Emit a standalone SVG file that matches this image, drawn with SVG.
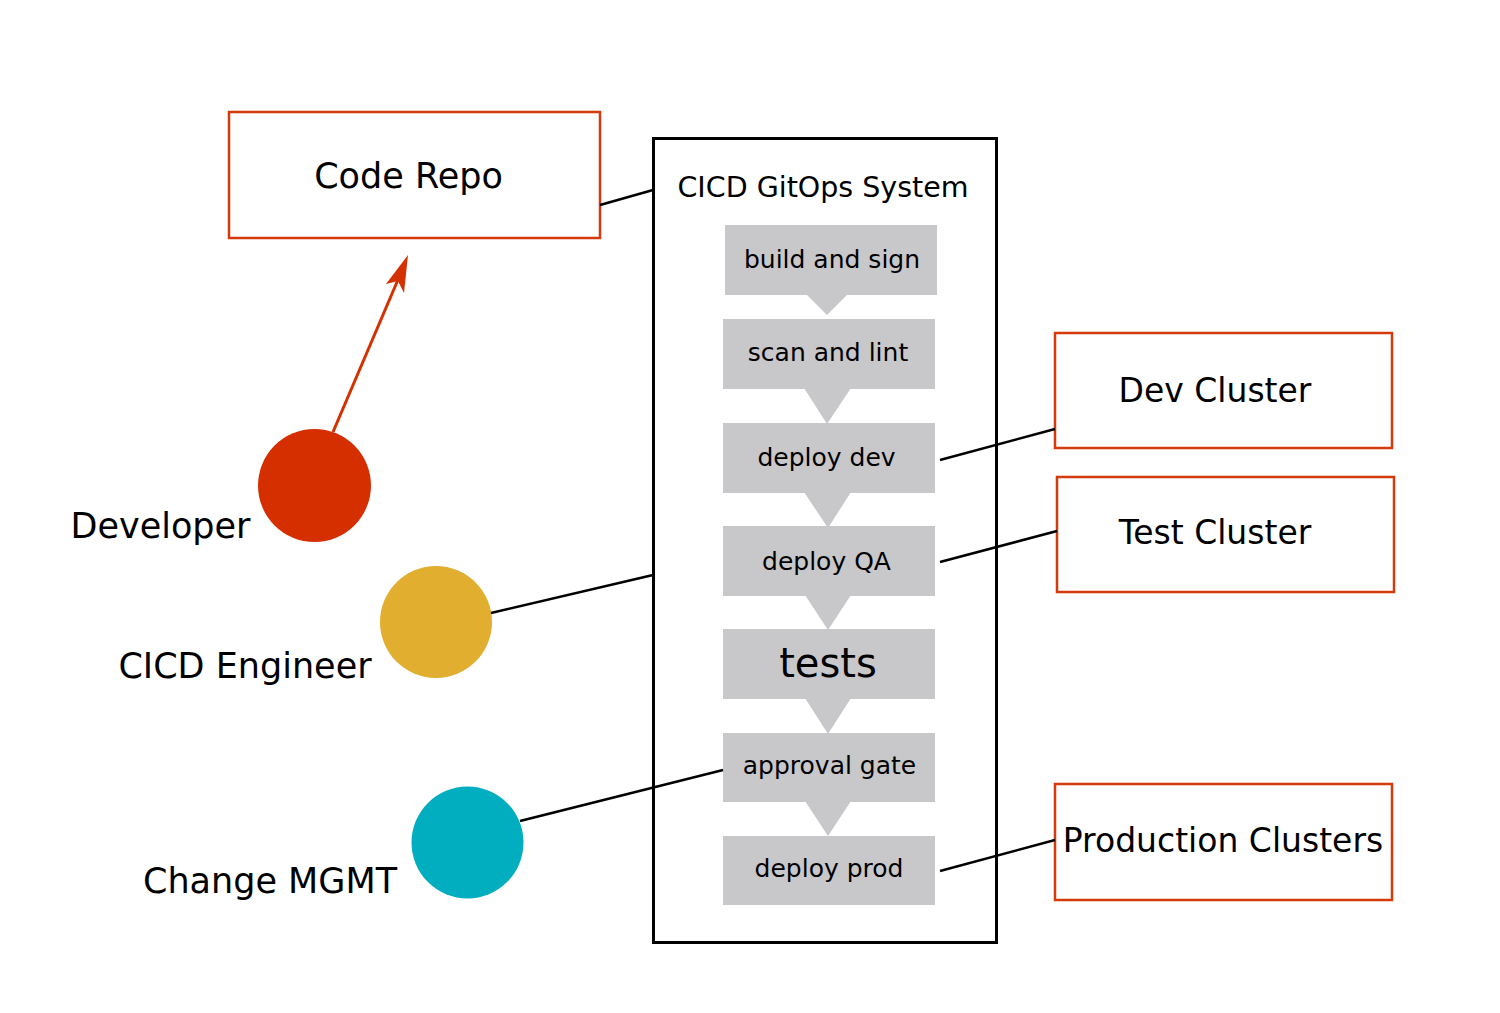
<svg xmlns="http://www.w3.org/2000/svg" width="1500" height="1013" viewBox="0 0 1500 1013">
<defs>
<style>
text{font-family:"DejaVu Sans","Verdana",sans-serif;fill:#000;}
.ob{fill:#fff;stroke:#d43a0c;stroke-width:2.5;}
.step{fill:#c8c7ca;}
.ln{stroke:#000;stroke-width:2.5;fill:none;}
.st{font-size:25px;text-anchor:middle;}
.big{font-size:33px;text-anchor:middle;}
.act{font-size:35px;text-anchor:middle;}
</style>
</defs>
<rect width="1500" height="1013" fill="#fff"/>

<g id="code-repo">
<rect class="ob" x="229" y="112" width="371" height="126"/>
<text class="act" x="408.5" y="188">Code Repo</text>
</g>

<g id="cicd-system">
<rect x="653.5" y="138.5" width="343" height="804" fill="#fff" stroke="#000" stroke-width="3"/>
<text x="823" y="197" font-size="28.5" text-anchor="middle">CICD GitOps System</text>
</g>

<g id="arrows-steps">
<polygon class="step" points="806,294 848,294 827,315"/>
<polygon class="step" points="804,388 851,388 827,424"/>
<polygon class="step" points="804,492 851,492 828,528"/>
<polygon class="step" points="805,595 851,595 828,630"/>
<polygon class="step" points="805,698 851,698 828,734"/>
<polygon class="step" points="805,801 851,801 828,836"/>
</g>

<g id="step-build">
<rect class="step" x="725" y="225" width="212" height="70"/>
<text class="st" x="832" y="268">build and sign</text>
</g>
<g id="step-scan">
<rect class="step" x="723" y="319" width="212" height="70"/>
<text class="st" x="828" y="361">scan and lint</text>
</g>
<g id="step-deploy-dev">
<rect class="step" x="723" y="423" width="212" height="70"/>
<text class="st" x="826.5" y="466">deploy dev</text>
</g>
<g id="step-deploy-qa">
<rect class="step" x="723" y="526" width="212" height="70"/>
<text class="st" x="826.5" y="570">deploy QA</text>
</g>
<g id="step-tests">
<rect class="step" x="723" y="629" width="212" height="70"/>
<text x="828" y="677" font-size="40" text-anchor="middle">tests</text>
</g>
<g id="step-approval">
<rect class="step" x="723" y="733" width="212" height="69"/>
<text class="st" x="829.5" y="774">approval gate</text>
</g>
<g id="step-deploy-prod">
<rect class="step" x="723" y="836" width="212" height="69"/>
<text class="st" x="829" y="877">deploy prod</text>
</g>

<g id="dev-cluster">
<rect class="ob" x="1055" y="333" width="337" height="115"/>
<text class="big" x="1215" y="402">Dev Cluster</text>
</g>
<g id="test-cluster">
<rect class="ob" x="1057" y="477" width="337" height="115"/>
<text class="big" x="1215" y="544">Test Cluster</text>
</g>
<g id="prod-clusters">
<rect class="ob" x="1055" y="784" width="337" height="116"/>
<text class="big" x="1223" y="852">Production Clusters</text>
</g>

<g id="developer">
<circle cx="314.5" cy="485.5" r="56.5" fill="#d52f00"/>
<text class="act" x="160.5" y="538">Developer</text>
</g>
<g id="cicd-engineer">
<circle cx="436" cy="622" r="56" fill="#e2ae30"/>
<text class="act" x="245" y="678">CICD Engineer</text>
</g>
<g id="change-mgmt">
<circle cx="467.5" cy="842.5" r="56" fill="#00aec0"/>
<text class="act" x="270" y="893">Change MGMT</text>
</g>

<g id="connectors">
<line class="ln" x1="600" y1="205" x2="653" y2="190"/>
<line class="ln" x1="940" y1="460" x2="1055" y2="429"/>
<line class="ln" x1="940" y1="562" x2="1057" y2="531"/>
<line class="ln" x1="940" y1="871" x2="1055" y2="840"/>
<line class="ln" x1="491" y1="613" x2="653" y2="575"/>
<line class="ln" x1="520" y1="821" x2="723" y2="770"/>
<path d="M333,432 L400,275" stroke="#d43000" stroke-width="3" fill="none"/>
<path d="M408,255 L404,293 L398,281 L386,284 Z" fill="#d43000"/>
</g>
</svg>
